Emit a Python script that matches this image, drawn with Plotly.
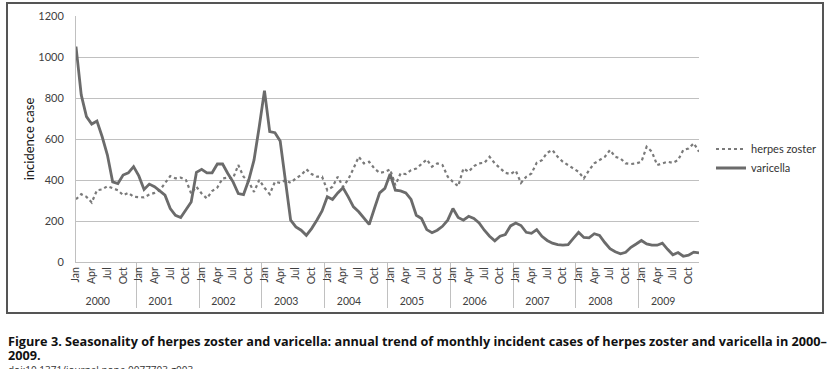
import plotly.graph_objects as go

YEARS = [str(y) for y in range(2000, 2010)]
MONTH_TICKS = ["Jan", "", "", "Apr", "", "", "Jul", "", "", "Oct", "", ""]

herpes_zoster = [
    306, 331, 318, 290, 350, 354, 370, 358, 350, 326, 337, 318,   # 2000
    318, 315, 329, 337, 350, 383, 419, 408, 412, 400, 334, 367,   # 2001
    334, 310, 346, 363, 408, 411, 408, 473, 416, 391, 342, 400,   # 2002
    362, 331, 391, 386, 400, 386, 408, 424, 452, 429, 416, 416,   # 2003
    350, 367, 416, 367, 403, 456, 513, 481, 489, 456, 435, 440,   # 2004
    452, 375, 432, 429, 448, 456, 478, 500, 465, 481, 473, 416,   # 2005
    391, 370, 456, 440, 468, 481, 484, 513, 481, 456, 435, 429,   # 2006
    445, 386, 416, 432, 484, 497, 533, 546, 513, 489, 473, 456,   # 2007
    440, 408, 448, 481, 497, 513, 546, 513, 505, 481, 478, 481,   # 2008
    489, 562, 538, 473, 481, 489, 484, 497, 546, 554, 579, 538,   # 2009
]

varicella = [
    1051, 815, 709, 673, 688, 611, 522, 391, 383, 424, 435, 465,  # 2000
    420, 354, 380, 367, 347, 326, 261, 228, 217, 253, 293, 437,   # 2001
    452, 435, 435, 478, 478, 432, 391, 334, 329, 400, 497, 660,   # 2002
    836, 636, 631, 590, 400, 204, 171, 155, 130, 163, 204, 249,   # 2003
    318, 305, 337, 362, 318, 269, 245, 212, 183, 261, 337, 359,   # 2004
    429, 350, 347, 337, 305, 228, 212, 158, 143, 155, 174, 204,   # 2005
    261, 217, 204, 223, 212, 191, 155, 126, 103, 126, 134, 176,   # 2006
    190, 178, 145, 140, 158, 125, 105, 92, 85, 82, 85, 115,       # 2007
    145, 120, 118, 138, 130, 95, 65, 50, 40, 47, 72, 88,          # 2008
    105, 88, 82, 82, 92, 62, 35, 46, 28, 33, 48, 44,              # 2009
]

SERIES_NAMES = ["herpes zoster", "varicella"]
Y_TITLE = "incidence case"
CAPTION_1 = ("Figure 3. Seasonality of herpes zoster and varicella: annual trend of "
             "monthly incident cases of herpes zoster and varicella in 2000\u2013")
CAPTION_2 = "2009."
CAPTION_3 = "doi:10.1371/journal.pone.0077703.g003"

# multicategory x (inner labels must be unique inside each year)
x_year, x_month = [], []
for y in YEARS:
    for k, m in enumerate(MONTH_TICKS):
        x_year.append(y)
        x_month.append(m if m else " " * (k + 1))

FONT = "Lato, 'Open Sans', sans-serif"
CAP_FONT = "'Open Sans', sans-serif"

fig = go.Figure()
fig.add_trace(go.Scatter(
    x=[x_year, x_month], y=herpes_zoster, name=SERIES_NAMES[0], mode="lines",
    line=dict(color="#7a7a7a", width=2.2, dash="dot"),
))
fig.add_trace(go.Scatter(
    x=[x_year, x_month], y=varicella, name=SERIES_NAMES[1], mode="lines",
    line=dict(color="#6b6b6b", width=2.8),
))

W, H = 834, 369
L, R, T, B = 76, 135, 16, 107
pw, ph = W - L - R, H - T - B

def px(xp):
    return (xp - L) / pw

def py(yp):
    return (H - B - yp) / ph

fig.update_layout(
    width=W, height=H,
    margin=dict(l=L, r=R, t=T, b=B, autoexpand=False),
    paper_bgcolor="white", plot_bgcolor="white",
    font=dict(family=FONT, color="#404040", size=11),
    showlegend=True,
    legend=dict(x=px(711), y=py(158.5), xanchor="left", yanchor="middle",
                font=dict(size=11, color="#333333"), bgcolor="rgba(0,0,0,0)",
                itemwidth=30, tracegroupgap=0),
    xaxis=dict(
        type="multicategory", automargin=False, showgrid=False, ticks="", showline=True,
        linecolor="#c0c0c0", linewidth=1, tickangle=-90,
        tickfont=dict(size=10.5, color="#404040"),
        showdividers=True, dividercolor="#c0c0c0", dividerwidth=1,
    ),
    yaxis=dict(
        automargin=False,
        range=[0, 1200], dtick=200, showgrid=True, gridcolor="#c0c0c0", gridwidth=1,
        showline=True, linecolor="#c0c0c0", linewidth=1, ticks="",
        ticklabelstandoff=9, zeroline=False,
        tickfont=dict(size=11, color="#404040"),
        title=dict(text=Y_TITLE, font=dict(size=13, color="#111111"), standoff=0),
    ),
    shapes=[dict(type="rect", xref="paper", yref="paper",
                 x0=px(7), x1=px(823), y0=py(313), y1=py(3),
                 line=dict(color="#555555", width=2), fillcolor="rgba(0,0,0,0)", layer="above")],
    annotations=[
        dict(text="<b>" + CAPTION_1 + "</b>", xref="paper", yref="paper", x=px(6), y=py(341),
             xanchor="left", yanchor="middle", showarrow=False,
             font=dict(family=CAP_FONT, size=12.7, color="#111111")),
        dict(text="<b>" + CAPTION_2 + "</b>", xref="paper", yref="paper", x=px(6), y=py(355),
             xanchor="left", yanchor="middle", showarrow=False,
             font=dict(family=CAP_FONT, size=12.7, color="#111111")),
        dict(text=CAPTION_3, xref="paper", yref="paper", x=px(6), y=py(370.5),
             xanchor="left", yanchor="middle", showarrow=False,
             font=dict(family=CAP_FONT, size=10, color="#333333")),
    ],
)

fig.write_html("out.html", config={"displayModeBar": False},
               post_script="document.body.style.margin='0';document.body.style.overflow='hidden';")
